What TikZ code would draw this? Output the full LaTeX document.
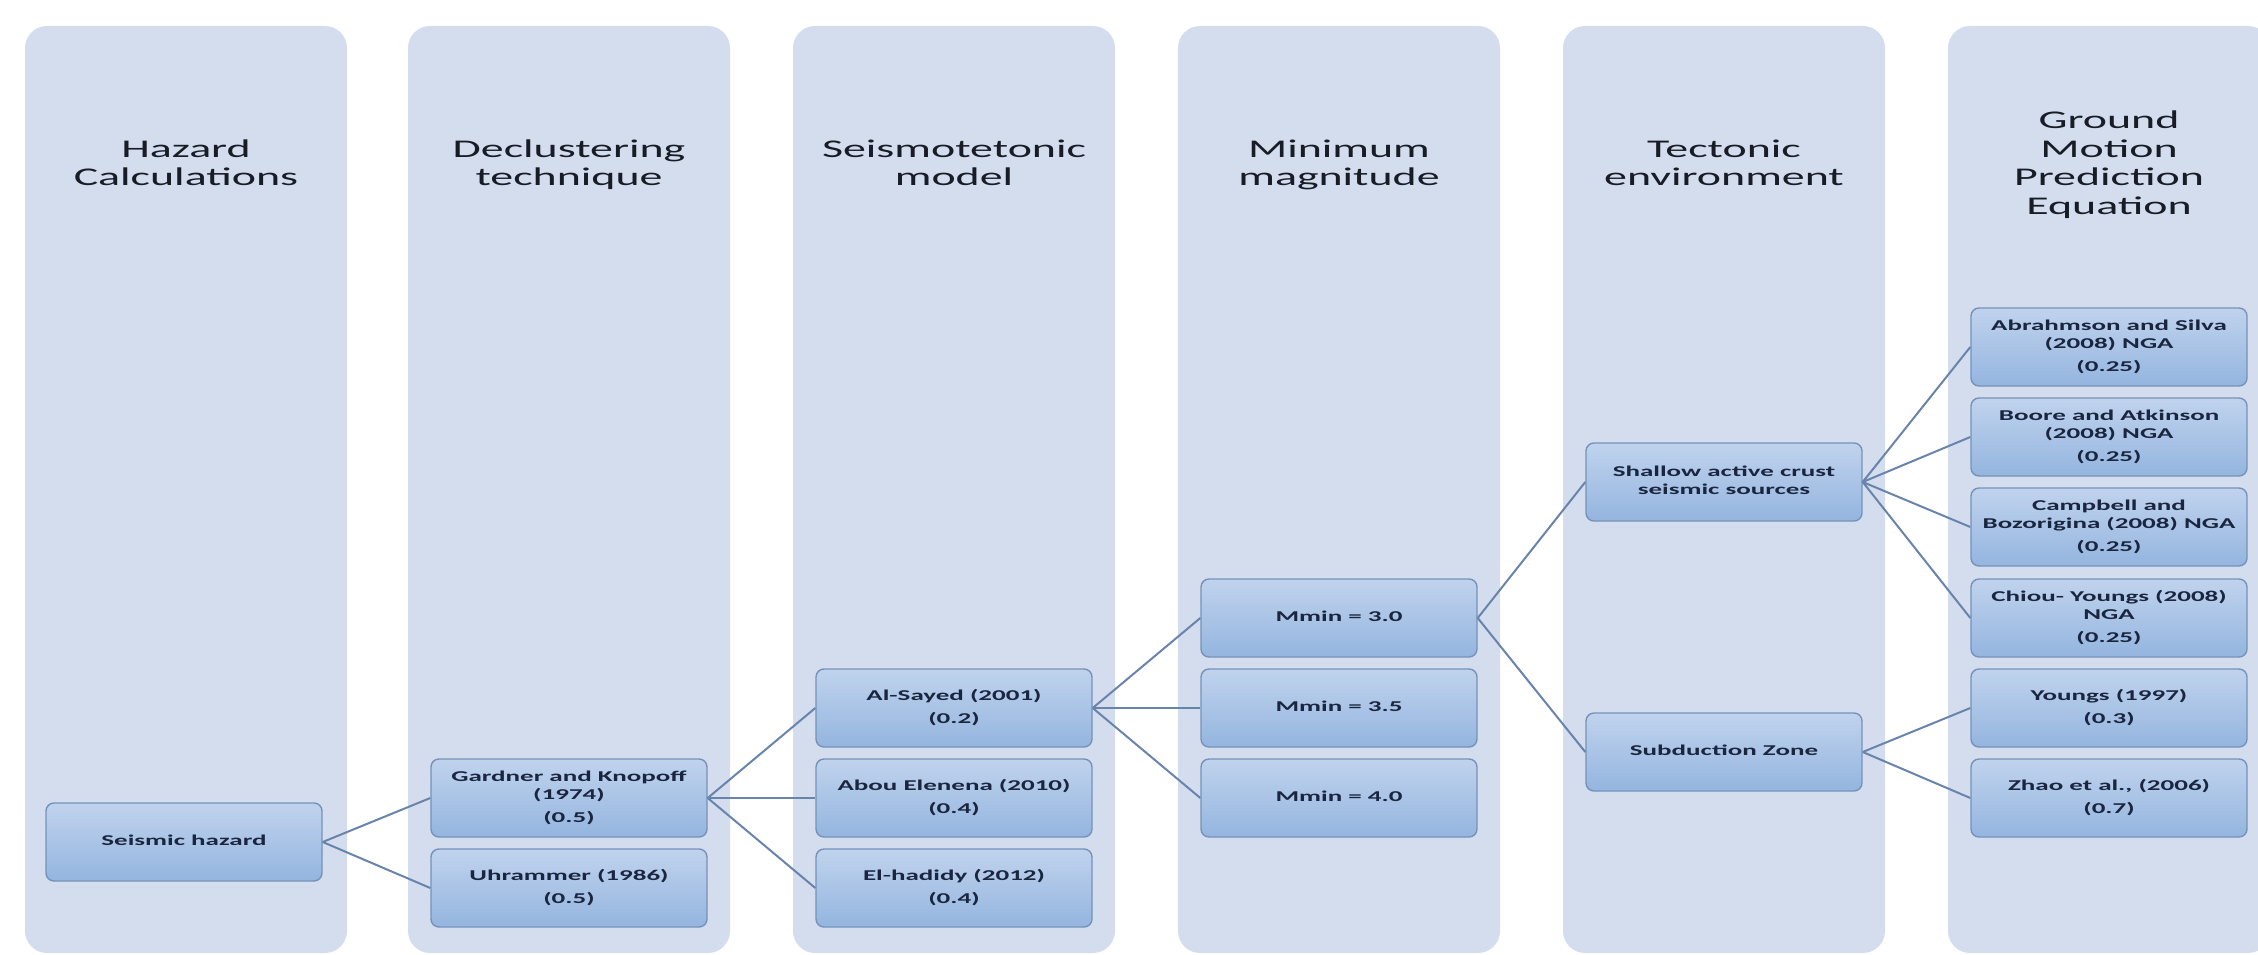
\documentclass[tikz,border=0pt]{standalone}
\usepackage{fontspec}
\usepackage{graphicx}
\setmainfont{Carlito}
\usetikzlibrary{shadings}
\definecolor{colfill}{RGB}{211,221,238}
\definecolor{boxtop}{RGB}{192,211,237}
\definecolor{boxbot}{RGB}{148,181,223}
\definecolor{boxline}{RGB}{118,146,186}
\definecolor{linkcol}{RGB}{104,132,172}
\definecolor{boxtext}{RGB}{26,38,64}
\definecolor{hdrtext}{RGB}{24,28,38}
\newcommand{\bxt}[1]{\scalebox{1.8}[1]{\fontsize{15}{18}\selectfont\bfseries\begin{tabular}{@{}c@{}}#1\end{tabular}}}
\newcommand{\hdt}[1]{\scalebox{1.8}[1]{\fontsize{25.5}{28.5}\selectfont\begin{tabular}{@{}c@{}}#1\end{tabular}}}
\tikzset{
  column/.style={fill=colfill, draw=none, rounded corners=22pt},
  hdr/.style={text=hdrtext, inner sep=0pt, anchor=center},
  bx/.style={draw=boxline, line width=1.4pt, rounded corners=8pt, top color=boxtop, bottom color=boxbot,
    minimum width=276pt, minimum height=78pt, inner sep=0pt, text=boxtext, anchor=center},
  conn/.style={draw=linkcol, line width=2pt}
}
\begin{document}
\begin{tikzpicture}[x=1pt,y=-1pt]
\useasboundingbox (0,0) rectangle (2258,955);
% columns
\foreach \cx in {186,569,954,1339,1724,2109}{
  \path[column] (\cx-161,26) rectangle (\cx+161,953);
}
% headers
\node[hdr] (h1) at (186,166) {\hdt{Hazard\\Calculations}};
\node[hdr] (h2) at (569,166) {\hdt{Declustering\\technique}};
\node[hdr] (h3) at (954,166) {\hdt{Seismotetonic\\model}};
\node[hdr] (h4) at (1339,166) {\hdt{Minimum\\magnitude}};
\node[hdr] (h5) at (1724,166) {\hdt{Tectonic\\environment}};
\node[hdr] (h6) at (2109,166) {\hdt{Ground\\Motion\\Prediction\\Equation}};
% boxes
\node[bx] (sh) at (184,842) {\bxt{Seismic hazard}};
\node[bx] (gk) at (569,798) {\bxt{Gardner and Knopoff\\(1974)\\[5pt](0.5)}};
\node[bx] (uh) at (569,888) {\bxt{Uhrammer (1986)\\[5pt](0.5)}};
\node[bx] (as) at (954,708) {\bxt{Al-Sayed (2001)\\[5pt](0.2)}};
\node[bx] (ae) at (954,798) {\bxt{Abou Elenena (2010)\\[5pt](0.4)}};
\node[bx] (eh) at (954,888) {\bxt{El-hadidy (2012)\\[5pt](0.4)}};
\node[bx] (m30) at (1339,618) {\bxt{Mmin = 3.0}};
\node[bx] (m35) at (1339,708) {\bxt{Mmin = 3.5}};
\node[bx] (m40) at (1339,798) {\bxt{Mmin = 4.0}};
\node[bx] (sa) at (1724,482) {\bxt{Shallow active crust\\seismic sources}};
\node[bx] (sz) at (1724,752) {\bxt{Subduction Zone}};
\node[bx] (ab) at (2109,347) {\bxt{Abrahmson and Silva\\(2008) NGA\\[5pt](0.25)}};
\node[bx] (ba) at (2109,437) {\bxt{Boore and Atkinson\\(2008) NGA\\[5pt](0.25)}};
\node[bx] (cb) at (2109,527) {\bxt{Campbell and\\Bozorigina (2008) NGA\\[5pt](0.25)}};
\node[bx] (cy) at (2109,618) {\bxt{Chiou- Youngs (2008)\\NGA\\[5pt](0.25)}};
\node[bx] (yo) at (2109,708) {\bxt{Youngs (1997)\\[5pt](0.3)}};
\node[bx] (zh) at (2109,798) {\bxt{Zhao et al., (2006)\\[5pt](0.7)}};
% connectors
\draw[conn] (sh.east) -- (gk.west);
\draw[conn] (sh.east) -- (uh.west);
\draw[conn] (gk.east) -- (as.west);
\draw[conn] (gk.east) -- (ae.west);
\draw[conn] (gk.east) -- (eh.west);
\draw[conn] (as.east) -- (m30.west);
\draw[conn] (as.east) -- (m35.west);
\draw[conn] (as.east) -- (m40.west);
\draw[conn] (m30.east) -- (sa.west);
\draw[conn] (m30.east) -- (sz.west);
\draw[conn] (sa.east) -- (ab.west);
\draw[conn] (sa.east) -- (ba.west);
\draw[conn] (sa.east) -- (cb.west);
\draw[conn] (sa.east) -- (cy.west);
\draw[conn] (sz.east) -- (yo.west);
\draw[conn] (sz.east) -- (zh.west);
\end{tikzpicture}
\end{document}
